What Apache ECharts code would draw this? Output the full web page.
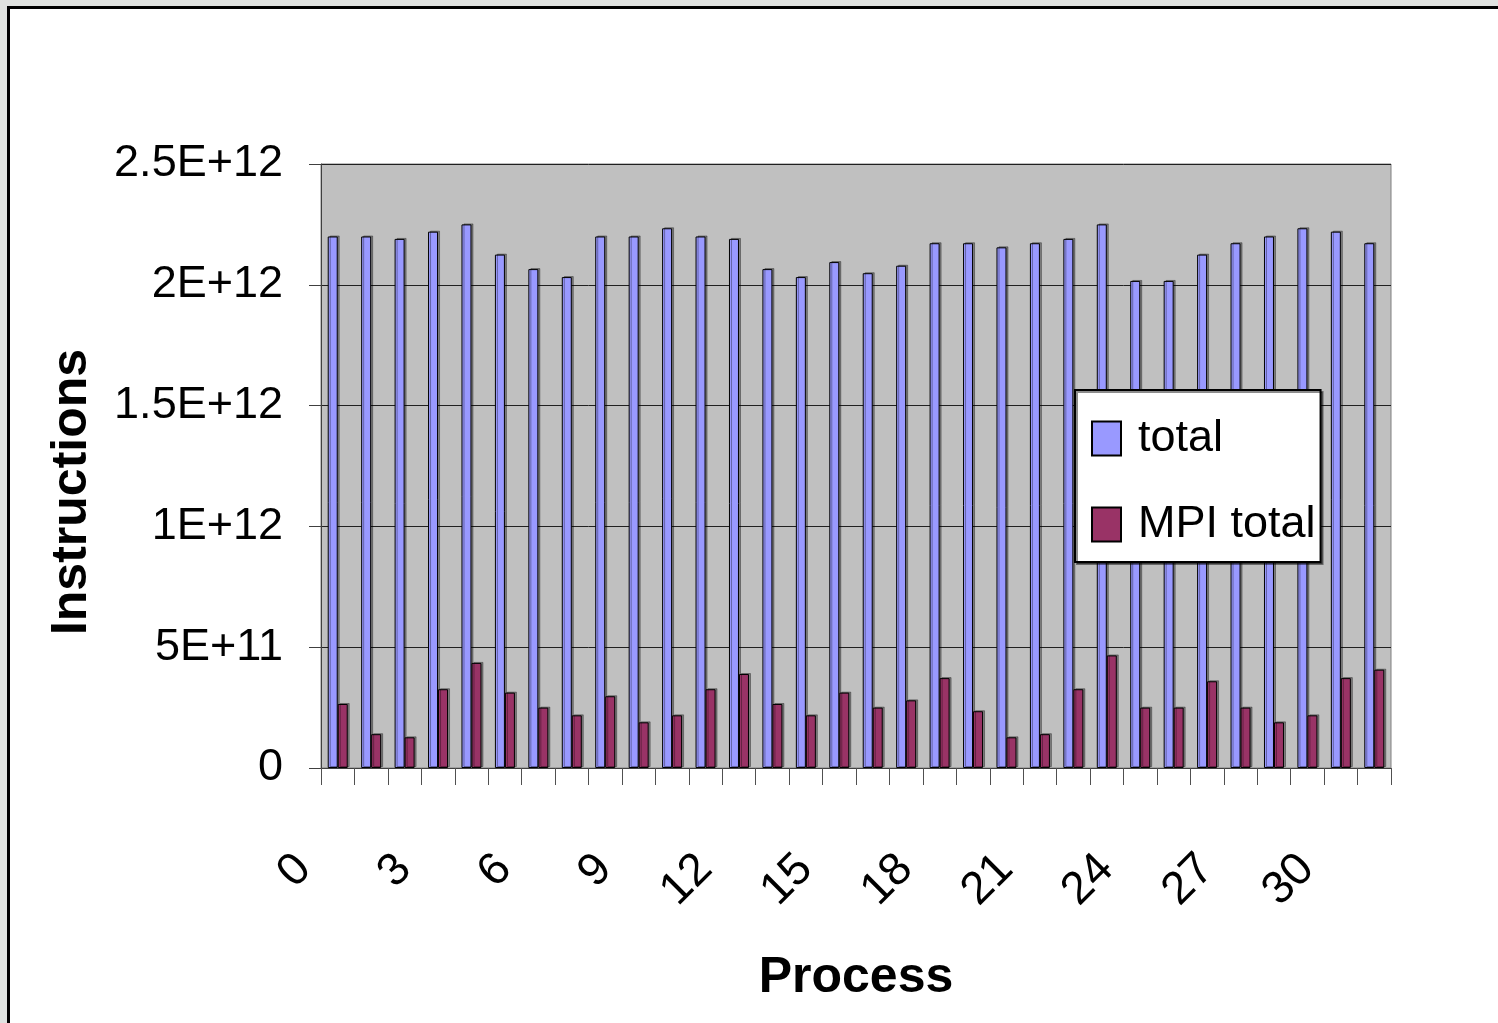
<!DOCTYPE html>
<html>
<head>
<meta charset="utf-8">
<script src="https://cdn.jsdelivr.net/npm/echarts@6/dist/echarts.min.js"></script>
<style>
  html, body { margin: 0; padding: 0; width: 1498px; height: 1023px; overflow: hidden; background: #e0e2e0; }
  #frame { position: absolute; left: 7px; top: 6px; width: 1600px; height: 1100px; background: #ffffff; border-left: 3px solid #000; border-top: 3px solid #000; }
  #chart { position: absolute; left: 0; top: 0; width: 1498px; height: 1023px; }
</style>
</head>
<body>
<div id="frame"></div>
<div id="chart"></div>
<script>
// Process ranks 0..31
const processes = ['0','1','2','3','4','5','6','7','8','9','10','11','12','13','14','15',
                   '16','17','18','19','20','21','22','23','24','25','26','27','28','29','30','31'];

// Instruction counts per process
const totalInstr = [2.20e12, 2.20e12, 2.19e12, 2.22e12, 2.25e12, 2.125e12, 2.065e12, 2.032e12,
                    2.20e12, 2.20e12, 2.234e12, 2.20e12, 2.19e12, 2.065e12, 2.032e12, 2.094e12,
                    2.048e12, 2.079e12, 2.172e12, 2.172e12, 2.155e12, 2.172e12, 2.19e12, 2.25e12,
                    2.016e12, 2.016e12, 2.125e12, 2.172e12, 2.20e12, 2.234e12, 2.22e12, 2.172e12];
const mpiInstr = [0.265e12, 0.14e12, 0.127e12, 0.326e12, 0.435e12, 0.312e12, 0.25e12, 0.218e12,
                  0.297e12, 0.189e12, 0.218e12, 0.326e12, 0.389e12, 0.265e12, 0.218e12, 0.312e12,
                  0.25e12, 0.28e12, 0.372e12, 0.235e12, 0.127e12, 0.14e12, 0.326e12, 0.466e12,
                  0.25e12, 0.25e12, 0.359e12, 0.25e12, 0.189e12, 0.218e12, 0.372e12, 0.407e12];

const seriesNames = ['total', 'MPI total'];
const yTickLabels = ['0', '5E+11', '1E+12', '1.5E+12', '2E+12', '2.5E+12'];

const FONT = "'Liberation Sans', Arial, sans-serif";

const chart = echarts.init(document.getElementById('chart'), null, { renderer: 'canvas' });

const barStyle = (color) => ({
  color: color,
  borderColor: '#000000',
  borderWidth: 1,
  shadowColor: 'rgba(0,0,0,0.35)',
  shadowOffsetX: 2,
  shadowOffsetY: -1,
  shadowBlur: 0
});

chart.setOption({
  backgroundColor: 'transparent',
  animation: false,
  grid: {
    left: 321, top: 164, right: 107, bottom: 255,
    show: true,
    backgroundColor: '#c0c0c0',
    borderColor: '#808080',
    borderWidth: 1
  },
  legend: {
    left: 1075, top: 390,
    orient: 'vertical',
    data: seriesNames,
    icon: 'rect',
    backgroundColor: '#ffffff',
    borderColor: '#000000',
    borderWidth: 2,
    shadowColor: 'rgba(0,0,0,0.45)',
    shadowOffsetX: 2,
    shadowOffsetY: 2,
    shadowBlur: 0,
    padding: [26, 5, 15, 16],
    itemWidth: 29,
    itemHeight: 34,
    itemGap: 41,
    textStyle: {
      fontFamily: FONT,
      fontSize: 45,
      color: '#000',
      lineHeight: 40,
      padding: [0, 0, 0, 12]
    }
  },
  xAxis: {
    type: 'category',
    data: processes,
    boundaryGap: true,
    name: 'Process',
    nameLocation: 'middle',
    nameGap: 185,
    nameTextStyle: { fontFamily: FONT, fontSize: 50, fontWeight: 'bold', color: '#000' },
    axisLine: { show: true, lineStyle: { color: '#404040', width: 1 } },
    axisTick: { show: true, interval: 0, length: 17, inside: false, lineStyle: { color: '#505050' } },
    axisLabel: {
      interval: 2,
      rotate: 45,
      margin: 60,
      fontFamily: FONT,
      fontSize: 46,
      color: '#000',
      padding: [0, 48, 97, 0]
    },
    splitLine: { show: false }
  },
  yAxis: {
    type: 'value',
    min: 0,
    max: 2.5e12,
    interval: 5e11,
    name: 'Instructions',
    nameLocation: 'middle',
    nameRotate: 90,
    nameGap: 224,
    nameTextStyle: { fontFamily: FONT, fontSize: 50, fontWeight: 'bold', color: '#000', padding: [0, 52, 0, 0] },
    axisLine: { show: true, lineStyle: { color: '#404040', width: 1 } },
    axisTick: { show: true, length: 12, lineStyle: { color: '#404040' } },
    axisLabel: {
      margin: 38,
      fontFamily: FONT,
      fontSize: 45,
      color: '#000',
      formatter: (v) => yTickLabels[Math.round(v / 5e11)]
    },
    splitLine: { show: true, lineStyle: { color: '#202020', width: 1 } }
  },
  series: [
    {
      name: seriesNames[0],
      type: 'bar',
      data: totalInstr,
      barWidth: 10,
      barGap: '0%',
      itemStyle: barStyle('#9999ff')
    },
    {
      name: seriesNames[1],
      type: 'bar',
      data: mpiInstr,
      barWidth: 10,
      barGap: '0%',
      itemStyle: barStyle('#993366')
    }
  ]
});
</script>
</body>
</html>
